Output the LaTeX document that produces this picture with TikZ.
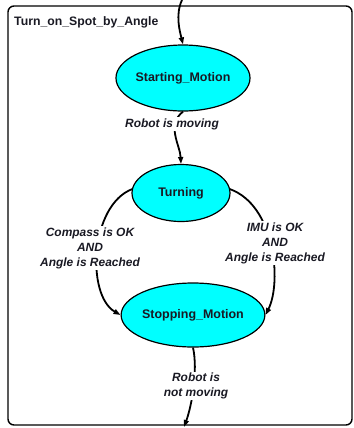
\documentclass[tikz,border=0pt]{standalone}
\usepackage{fontspec}
\setmainfont{Liberation Sans}
\usetikzlibrary{shapes.geometric,arrows.meta}
\definecolor{statecyan}{RGB}{0,255,255}
\definecolor{txt}{RGB}{25,25,35}
\tikzset{
  statebox/.style={ellipse, draw=black, line width=1.2bp, fill=statecyan, inner sep=0pt, font=\fontsize{12.5}{14}\selectfont\bfseries, text=txt},
  conn/.style={line width=1.8bp, -{Triangle[length=7bp,width=5bp]}},
  lbl/.style={fill=white, inner sep=1bp, align=center, font=\fontsize{12}{15}\selectfont\bfseries\itshape, text=txt},
}
\begin{document}
\begin{tikzpicture}[x=1bp,y=-1bp]
\useasboundingbox (0,0) rectangle (354,428);
\draw[rounded corners=6bp, line width=1.4bp] (8,6) rectangle (352,425);
\node[anchor=west, inner sep=0pt, font=\fontsize{12.3}{15}\selectfont\bfseries, text=txt] (title) at (14,22) {Turn\_on\_Spot\_by\_Angle};

\node[statebox, minimum width=129bp, minimum height=66bp] (start) at (183,78) {Starting\_Motion};
\node[statebox, minimum width=98bp, minimum height=57bp] (turn) at (181,193) {Turning};
\node[statebox, minimum width=131bp, minimum height=64bp] (stop) at (193,315) {Stopping\_Motion};

\coordinate (in) at (182,0);
\coordinate (out) at (184,427);

\draw[conn] (in) .. controls (175,15) and (180,32) .. (start.north);
\draw[conn] (start.south) .. controls (166,125) and (180,145) .. (turn.north);
\draw[conn] (turn.west) ++(1,-4) .. controls (90,205) and (86,295) .. (stop.west);
\draw[conn] (turn.east) ++(-1,-4) .. controls (275,205) and (282,282) .. (stop.east);
\draw[conn] (stop.south) .. controls (198,370) and (192,405) .. (out);

\node[lbl] (l1) at (172,124) {Robot is moving};
\node[lbl] (l2) at (90,248) {Compass is OK\\AND\\Angle is Reached};
\node[lbl] (l3) at (275,243) {IMU is OK\\AND\\Angle is Reached};
\node[lbl] (l4) at (196,386) {Robot is\\not moving};
\end{tikzpicture}
\end{document}
